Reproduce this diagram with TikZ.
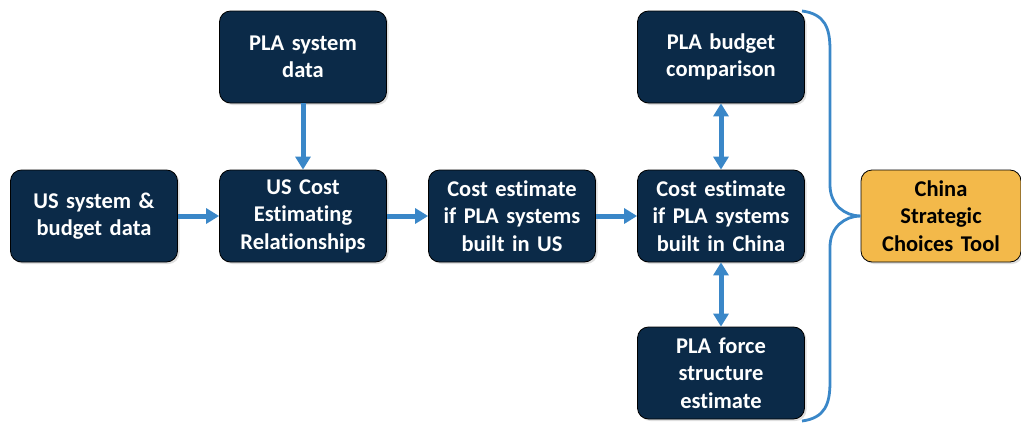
\documentclass[tikz,border=0pt]{standalone}
\usepackage{fontspec}
\setmainfont{Carlito}[Ligatures=NoCommon]
\usetikzlibrary{arrows.meta,shadows}
\definecolor{navy}{HTML}{0B2A48}
\definecolor{arrowblue}{HTML}{3A87C8}
\definecolor{gold}{HTML}{F3B94A}
\begin{document}
\begin{tikzpicture}[x=1pt,y=-1pt,
  box/.style={draw=black, line width=0.8pt, fill=navy, rounded corners=11pt,
    minimum width=167pt, minimum height=92pt, text width=160pt, align=center,
    font=\fontsize{22.5}{27.5}\selectfont\bfseries, text=white, inner sep=0pt,
    drop shadow={opacity=0.25, shadow xshift=2pt, shadow yshift=-2pt}},
  toolbox/.style={box, fill=gold, text=black, minimum width=160pt, text width=155pt},
  flow/.style={draw=arrowblue, line width=5pt, -{Triangle[width=15pt,length=13pt]}},
  dflow/.style={draw=arrowblue, line width=5pt, {Triangle[width=15pt,length=13pt]}-{Triangle[width=15pt,length=13pt]}},
  bracecol/.style={draw=arrowblue, line width=2.8pt}]
\useasboundingbox (0,0) rectangle (1021,423);
\node[box] (ussys) at (94,216) {US system \&\\budget data};
\node[box] (uscer) at (303,216) {US Cost\\Estimating\\Relationships};
\node[box] (plasys) at (303,57) {PLA system\\data};
\node[box] (estus) at (512,216) {Cost estimate\\if PLA systems\\built in US};
\node[box] (estcn) at (721,216) {Cost estimate\\if PLA systems\\built in China};
\node[box] (budget) at (721,57) {PLA budget\\comparison};
\node[box] (force) at (721,373) {PLA force\\structure\\estimate};
\node[toolbox] (tool) at (941,216) {China\\Strategic\\Choices Tool};
\draw[flow] (ussys) -- (uscer);
\draw[flow] (plasys) -- (uscer);
\draw[flow] (uscer) -- (estus);
\draw[flow] (estus) -- (estcn);
\draw[dflow] (estcn) -- (budget);
\draw[dflow] (estcn) -- (force);
\coordinate (btop) at (802,11);
\coordinate (bbot) at (802,421);
\coordinate (btip) at (tool.west);
\draw[bracecol] (btop) .. controls (825,14) and (830,28) .. (830,50)
  -- (830,185) .. controls (830,205) and (845,216) .. (btip)
  .. controls (845,216) and (830,227) .. (830,247)
  -- (830,382) .. controls (830,404) and (825,418) .. (bbot);
\end{tikzpicture}
\end{document}
